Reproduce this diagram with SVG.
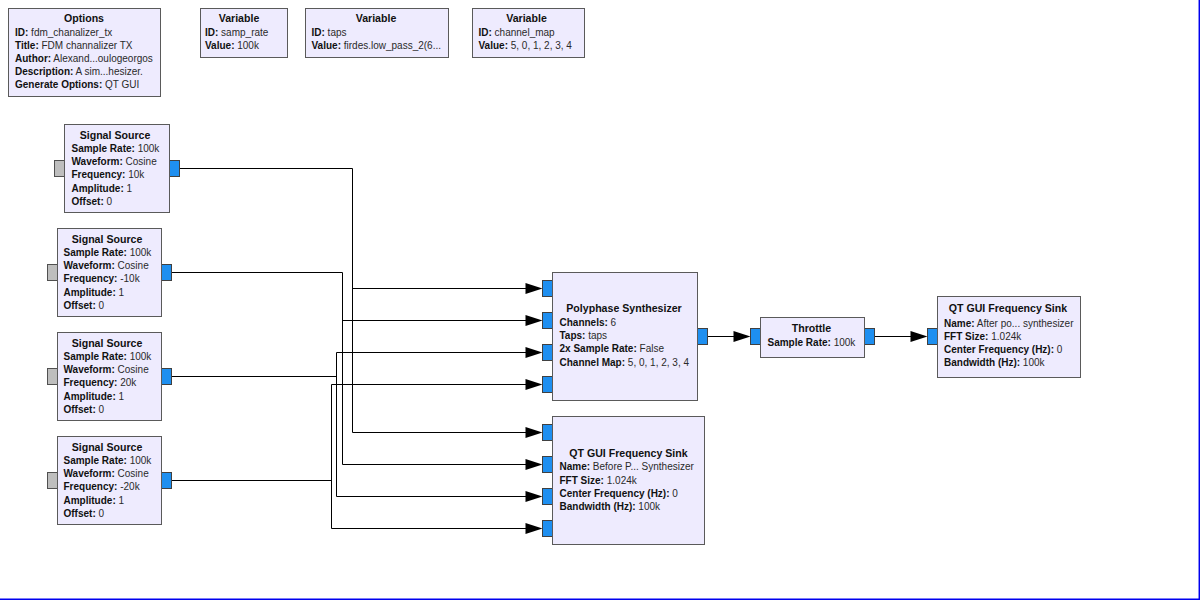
<svg xmlns="http://www.w3.org/2000/svg" width="1200" height="600" viewBox="0 0 1200 600">
  <defs>
    <style>
      .blk { fill: #EEEBFE; stroke: #5a5a5a; stroke-width: 1; }
      .port { fill: #1E8FF0; stroke: #404040; stroke-width: 1; }
      .mport { fill: #BEBEBE; stroke: #505050; stroke-width: 1; }
      .ttl { font-family: "Liberation Sans", Arial, sans-serif; font-size: 10.6px; font-weight: bold; fill: #111; text-anchor: middle; }
      .prm { font-family: "Liberation Sans", Arial, sans-serif; font-size: 10px; fill: #2a2a2a; }
      .prm tspan.k { font-weight: bold; fill: #111; }
      .wire { fill: none; stroke: #000; stroke-width: 1; }
      .head { fill: #000; }
      .frame { stroke: #0000EE; stroke-width: 1.5; }
    </style>
  </defs>

  <rect x="0" y="0" width="1200" height="600" fill="#FFFFFF"/>

  <!-- Options -->
  <g id="options">
    <rect class="blk" x="8.5" y="8.5" width="152" height="88"/>
    <text class="ttl" x="84" y="22">Options</text>
    <text class="prm" x="15" y="36"><tspan class="k">ID:</tspan> fdm_chanalizer_tx</text>
    <text class="prm" x="15" y="49"><tspan class="k">Title:</tspan> FDM channalizer TX</text>
    <text class="prm" x="15" y="62"><tspan class="k">Author:</tspan> Alexand...oulogeorgos</text>
    <text class="prm" x="15" y="75"><tspan class="k">Description:</tspan> A sim...hesizer.</text>
    <text class="prm" x="15" y="88"><tspan class="k">Generate Options:</tspan> QT GUI</text>
  </g>

  <!-- Variables -->
  <g id="var_samp_rate">
    <rect class="blk" x="200.5" y="8.5" width="87" height="49"/>
    <text class="ttl" x="239" y="22">Variable</text>
    <text class="prm" x="205" y="36"><tspan class="k">ID:</tspan> samp_rate</text>
    <text class="prm" x="205" y="49"><tspan class="k">Value:</tspan> 100k</text>
  </g>
  <g id="var_taps">
    <rect class="blk" x="305.5" y="8.5" width="143" height="49"/>
    <text class="ttl" x="376" y="22">Variable</text>
    <text class="prm" x="311.5" y="36"><tspan class="k">ID:</tspan> taps</text>
    <text class="prm" x="311.5" y="49"><tspan class="k">Value:</tspan> firdes.low_pass_2(6...</text>
  </g>
  <g id="var_channel_map">
    <rect class="blk" x="472.5" y="8.5" width="112" height="49"/>
    <text class="ttl" x="526.5" y="22">Variable</text>
    <text class="prm" x="478.5" y="36"><tspan class="k">ID:</tspan> channel_map</text>
    <text class="prm" x="478.5" y="49"><tspan class="k">Value:</tspan> 5, 0, 1, 2, 3, 4</text>
  </g>

  <!-- Connectors -->
  <g id="connectors">
    <!-- source 1 (10k) -->
    <polyline class="wire" points="179,168.5 352.5,168.5 352.5,432.5 526,432.5"/>
    <polyline class="wire" points="352.5,288.5 526,288.5"/>
    <!-- source 2 (-10k) -->
    <polyline class="wire" points="171,272.5 342.5,272.5 342.5,464.5 526,464.5"/>
    <polyline class="wire" points="342.5,320.5 526,320.5"/>
    <!-- source 3 (20k) -->
    <polyline class="wire" points="171,376.5 336.5,376.5"/>
    <polyline class="wire" points="526,352.5 336.5,352.5 336.5,496.5 526,496.5"/>
    <!-- source 4 (-20k) -->
    <polyline class="wire" points="171,480.5 331.5,480.5"/>
    <polyline class="wire" points="526,384.5 331.5,384.5 331.5,528.5 526,528.5"/>
    <!-- synthesizer -> throttle -> sink -->
    <polyline class="wire" points="707,336.5 734,336.5"/>
    <polyline class="wire" points="874,336.5 911,336.5"/>

    <polygon class="head" points="542.5,288.5 525.5,283 525.5,294"/>
    <polygon class="head" points="542.5,320.5 525.5,315 525.5,326"/>
    <polygon class="head" points="542.5,352.5 525.5,347 525.5,358"/>
    <polygon class="head" points="542.5,384.5 525.5,379 525.5,390"/>
    <polygon class="head" points="542.5,432.5 525.5,427 525.5,438"/>
    <polygon class="head" points="542.5,464.5 525.5,459 525.5,470"/>
    <polygon class="head" points="542.5,496.5 525.5,491 525.5,502"/>
    <polygon class="head" points="542.5,528.5 525.5,523 525.5,534"/>
    <polygon class="head" points="750.5,336.5 733.5,331 733.5,342"/>
    <polygon class="head" points="927.5,336.5 910.5,331 910.5,342"/>
  </g>

  <!-- Signal sources -->
  <g id="sig_source_0">
    <rect class="mport" x="54.5" y="160.5" width="10" height="16"/>
    <rect class="port" x="169.5" y="160.5" width="10" height="16"/>
    <rect class="blk" x="64.5" y="124.5" width="105" height="88"/>
    <text class="ttl" x="115" y="138.5">Signal Source</text>
    <text class="prm" x="71.5" y="152"><tspan class="k">Sample Rate:</tspan> 100k</text>
    <text class="prm" x="71.5" y="165.2"><tspan class="k">Waveform:</tspan> Cosine</text>
    <text class="prm" x="71.5" y="178.4"><tspan class="k">Frequency:</tspan> 10k</text>
    <text class="prm" x="71.5" y="191.6"><tspan class="k">Amplitude:</tspan> 1</text>
    <text class="prm" x="71.5" y="204.8"><tspan class="k">Offset:</tspan> 0</text>
  </g>
  <g id="sig_source_1">
    <rect class="mport" x="47.5" y="264.5" width="10" height="16"/>
    <rect class="port" x="161.5" y="264.5" width="10" height="16"/>
    <rect class="blk" x="57.5" y="228.5" width="104" height="88"/>
    <text class="ttl" x="107" y="242.5">Signal Source</text>
    <text class="prm" x="63.5" y="256"><tspan class="k">Sample Rate:</tspan> 100k</text>
    <text class="prm" x="63.5" y="269.2"><tspan class="k">Waveform:</tspan> Cosine</text>
    <text class="prm" x="63.5" y="282.4"><tspan class="k">Frequency:</tspan> -10k</text>
    <text class="prm" x="63.5" y="295.6"><tspan class="k">Amplitude:</tspan> 1</text>
    <text class="prm" x="63.5" y="308.8"><tspan class="k">Offset:</tspan> 0</text>
  </g>
  <g id="sig_source_2">
    <rect class="mport" x="47.5" y="368.5" width="10" height="16"/>
    <rect class="port" x="161.5" y="368.5" width="10" height="16"/>
    <rect class="blk" x="57.5" y="332.5" width="104" height="88"/>
    <text class="ttl" x="107" y="346.5">Signal Source</text>
    <text class="prm" x="63.5" y="360"><tspan class="k">Sample Rate:</tspan> 100k</text>
    <text class="prm" x="63.5" y="373.2"><tspan class="k">Waveform:</tspan> Cosine</text>
    <text class="prm" x="63.5" y="386.4"><tspan class="k">Frequency:</tspan> 20k</text>
    <text class="prm" x="63.5" y="399.6"><tspan class="k">Amplitude:</tspan> 1</text>
    <text class="prm" x="63.5" y="412.8"><tspan class="k">Offset:</tspan> 0</text>
  </g>
  <g id="sig_source_3">
    <rect class="mport" x="47.5" y="472.5" width="10" height="16"/>
    <rect class="port" x="161.5" y="472.5" width="10" height="16"/>
    <rect class="blk" x="57.5" y="436.5" width="104" height="88"/>
    <text class="ttl" x="107" y="450.5">Signal Source</text>
    <text class="prm" x="63.5" y="464"><tspan class="k">Sample Rate:</tspan> 100k</text>
    <text class="prm" x="63.5" y="477.2"><tspan class="k">Waveform:</tspan> Cosine</text>
    <text class="prm" x="63.5" y="490.4"><tspan class="k">Frequency:</tspan> -20k</text>
    <text class="prm" x="63.5" y="503.6"><tspan class="k">Amplitude:</tspan> 1</text>
    <text class="prm" x="63.5" y="516.8"><tspan class="k">Offset:</tspan> 0</text>
  </g>

  <!-- Polyphase synthesizer -->
  <g id="pfb_synthesizer">
    <rect class="port" x="542.5" y="280.5" width="10" height="16"/>
    <rect class="port" x="542.5" y="312.5" width="10" height="16"/>
    <rect class="port" x="542.5" y="344.5" width="10" height="16"/>
    <rect class="port" x="542.5" y="376.5" width="10" height="16"/>
    <rect class="port" x="697.5" y="328.5" width="10" height="16"/>
    <rect class="blk" x="552.5" y="272.5" width="145" height="128"/>
    <text class="ttl" x="624" y="312">Polyphase Synthesizer</text>
    <text class="prm" x="559.5" y="326"><tspan class="k">Channels:</tspan> 6</text>
    <text class="prm" x="559.5" y="339.2"><tspan class="k">Taps:</tspan> taps</text>
    <text class="prm" x="559.5" y="352.4"><tspan class="k">2x Sample Rate:</tspan> False</text>
    <text class="prm" x="559.5" y="365.6"><tspan class="k">Channel Map:</tspan> 5, 0, 1, 2, 3, 4</text>
  </g>

  <!-- Frequency sink before synthesis -->
  <g id="freq_sink_before">
    <rect class="port" x="542.5" y="424.5" width="10" height="16"/>
    <rect class="port" x="542.5" y="456.5" width="10" height="16"/>
    <rect class="port" x="542.5" y="488.5" width="10" height="16"/>
    <rect class="port" x="542.5" y="520.5" width="10" height="16"/>
    <rect class="blk" x="552.5" y="416.5" width="152" height="128"/>
    <text class="ttl" x="628.5" y="456.5">QT GUI Frequency Sink</text>
    <text class="prm" x="559.5" y="470.3"><tspan class="k">Name:</tspan> Before P... Synthesizer</text>
    <text class="prm" x="559.5" y="483.5"><tspan class="k">FFT Size:</tspan> 1.024k</text>
    <text class="prm" x="559.5" y="496.7"><tspan class="k">Center Frequency (Hz):</tspan> 0</text>
    <text class="prm" x="559.5" y="509.9"><tspan class="k">Bandwidth (Hz):</tspan> 100k</text>
  </g>

  <!-- Throttle -->
  <g id="throttle">
    <rect class="port" x="750.5" y="328.5" width="10" height="16"/>
    <rect class="port" x="864.5" y="328.5" width="10" height="16"/>
    <rect class="blk" x="760.5" y="317.5" width="104" height="40"/>
    <text class="ttl" x="811.5" y="332">Throttle</text>
    <text class="prm" x="767.5" y="346.2"><tspan class="k">Sample Rate:</tspan> 100k</text>
  </g>

  <!-- Frequency sink after synthesis -->
  <g id="freq_sink_after">
    <rect class="port" x="927.5" y="328.5" width="10" height="16"/>
    <rect class="blk" x="937.5" y="296.5" width="143" height="81"/>
    <text class="ttl" x="1008" y="312">QT GUI Frequency Sink</text>
    <text class="prm" x="944" y="326.5"><tspan class="k">Name:</tspan> After po... synthesizer</text>
    <text class="prm" x="944" y="339.7"><tspan class="k">FFT Size:</tspan> 1.024k</text>
    <text class="prm" x="944" y="352.9"><tspan class="k">Center Frequency (Hz):</tspan> 0</text>
    <text class="prm" x="944" y="366.1"><tspan class="k">Bandwidth (Hz):</tspan> 100k</text>
  </g>

  <!-- canvas edge -->
  <line class="frame" x1="0" y1="599.3" x2="1200" y2="599.3"/>
  <line class="frame" x1="1199.3" y1="0" x2="1199.3" y2="600"/>
</svg>
